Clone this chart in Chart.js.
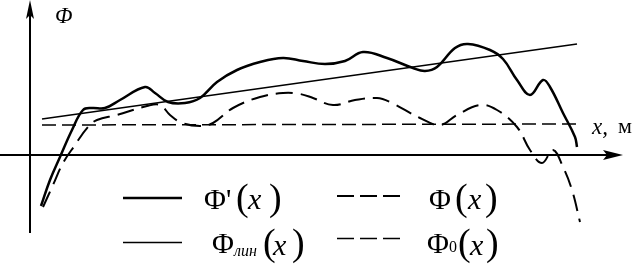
<!DOCTYPE html>
<html>
<head>
<meta charset="utf-8">
<script src="https://cdn.jsdelivr.net/npm/chart.js@4/dist/chart.umd.min.js"></script>
<style>
  html, body { margin: 0; padding: 0; background: #fff; }
  #wrap { position: relative; width: 633px; height: 265px; overflow: hidden; }
  canvas { position: absolute; left: 0; top: 0; }
  .t { position: absolute; font-family: "Times New Roman", "Liberation Serif", "DejaVu Serif", serif; color: #000; white-space: nowrap; line-height: 1; }
  .g { font-size: 30px; }
  .p { font-size: 38px; }
  .i { font-style: italic; }
  .s { font-size: 16px; }
</style>
</head>
<body>
<div id="wrap">
  <canvas id="chart" width="633" height="265"></canvas>
  <!-- axis names -->
  <div class="t i" style="left:55px; top:4px; font-size:23px;">Φ</div>
  <div class="t i" style="left:592px; top:115px; font-size:23px;">x,</div>
  <div class="t" style="left:618px; top:115px; font-size:22px;">м</div>
  <!-- legend: Φ'(x) -->
  <div class="t g" style="left:204px; top:184px;">Φ'</div>
  <div class="t p" style="left:236px; top:178px;">(</div>
  <div class="t g i" style="left:248px; top:184px;">x</div>
  <div class="t p" style="left:269px; top:178px;">)</div>
  <!-- legend: Φ(x) -->
  <div class="t g" style="left:429px; top:184px;">Φ</div>
  <div class="t p" style="left:455px; top:178px;">(</div>
  <div class="t g i" style="left:468px; top:184px;">x</div>
  <div class="t p" style="left:485px; top:178px;">)</div>
  <!-- legend: Φлин(x) -->
  <div class="t g" style="left:212px; top:228px;">Φ</div>
  <div class="t s i" style="left:234px; top:243px;">лин</div>
  <div class="t p" style="left:263px; top:223px;">(</div>
  <div class="t g i" style="left:273px; top:230px;">x</div>
  <div class="t p" style="left:292px; top:223px;">)</div>
  <!-- legend: Φ0(x) -->
  <div class="t g" style="left:427px; top:228px;">Φ</div>
  <div class="t s" style="left:449px; top:239px;">0</div>
  <div class="t p" style="left:458px; top:223px;">(</div>
  <div class="t g i" style="left:470px; top:230px;">x</div>
  <div class="t p" style="left:486px; top:223px;">)</div>
</div>
<script>
// values (x along the axis, Φ above the x axis)
const primeX = [41, 50, 60, 72, 83, 92, 105, 120, 145, 155, 168, 185, 200, 217, 237, 260, 283, 303, 325, 345, 363, 387, 413, 425, 437, 455, 468, 490, 503, 517, 530, 543, 550, 563, 575, 577];
const primeY = [-51, -25, -2, 25, 45, 47, 47, 55, 68, 62, 53, 52, 57, 73, 85, 93, 97, 94, 91, 94, 103, 97, 87, 84, 88, 107, 111, 105, 96, 75, 60, 75, 68, 42, 18, 8];

const phiX = [43, 53, 63, 75, 88, 97, 117, 147, 160, 170, 182, 200, 213, 233, 260, 283, 300, 313, 333, 355, 377, 390, 420, 440, 457, 480, 497, 517, 530, 542, 553, 563, 572, 580];
const phiY = [-52, -30, -8, 10, 28, 35, 40, 49, 50, 40, 32, 29, 32, 47, 58, 62, 61, 57, 50, 55, 57, 53, 37, 30, 40, 50, 45, 28, 5, -8, 5, -12, -35, -67];

const linX = [42, 577];
const linY = [36, 111];

const zeroX = [42, 580];
const zeroY = [30, 31];

const axisOriginX = 30;

function pts(xs, ys) {
    return xs.map((x, i) => ({ x: x, y: ys[i] }));
}

const axesPlugin = {
    id: 'axes',
    beforeDatasetsDraw(chart) {
        const ctx = chart.ctx;
        const xs = chart.scales.x, ys = chart.scales.y;
        const ox = xs.getPixelForValue(axisOriginX);
        const oy = ys.getPixelForValue(0);
        ctx.save();
        ctx.strokeStyle = '#000';
        ctx.fillStyle = '#000';
        ctx.lineWidth = 2;
        // x axis
        ctx.beginPath();
        ctx.moveTo(0, oy);
        ctx.lineTo(xs.getPixelForValue(612), oy);
        ctx.stroke();
        ctx.beginPath();
        ctx.moveTo(xs.getPixelForValue(623), oy);
        ctx.lineTo(xs.getPixelForValue(603), oy - 5);
        ctx.lineTo(xs.getPixelForValue(607), oy);
        ctx.lineTo(xs.getPixelForValue(603), oy + 5);
        ctx.closePath();
        ctx.fill();
        // y axis
        ctx.beginPath();
        ctx.moveTo(ox, ys.getPixelForValue(-78));
        ctx.lineTo(ox, ys.getPixelForValue(143));
        ctx.stroke();
        ctx.beginPath();
        ctx.moveTo(ox, ys.getPixelForValue(155));
        ctx.lineTo(ox - 4, ys.getPixelForValue(136));
        ctx.lineTo(ox, ys.getPixelForValue(140));
        ctx.lineTo(ox + 4, ys.getPixelForValue(136));
        ctx.closePath();
        ctx.fill();
        ctx.restore();
    }
};

// sample strokes for the legend, taken from the dataset styles
const legendPlugin = {
    id: 'legendLines',
    afterDraw(chart) {
        const ctx = chart.ctx;
        const spots = [[123, 182, 198], [337, 400, 196], [123, 182, 242.5], [337, 400, 238.5]];
        chart.data.datasets.forEach((ds, i) => {
            const s = spots[i];
            ctx.save();
            ctx.strokeStyle = ds.borderColor;
            ctx.lineWidth = ds.borderWidth;
            ctx.setLineDash(ds.legendDash || ds.borderDash || []);
            ctx.beginPath();
            ctx.moveTo(s[0], s[2]);
            ctx.lineTo(s[1], s[2]);
            ctx.stroke();
            ctx.restore();
        });
    }
};

const ctx = document.getElementById('chart').getContext('2d');
const chart = new Chart(ctx, {
    type: 'scatter',
    data: {
        datasets: [
            { label: "Φ'(x)", data: pts(primeX, primeY), showLine: true, borderColor: '#000', borderWidth: 2.5, tension: 0.4, pointRadius: 0 },
            { label: 'Φ(x)', data: pts(phiX, phiY), showLine: true, borderColor: '#000', borderWidth: 2, borderDash: [17, 8], legendDash: [17, 6], tension: 0.4, pointRadius: 0 },
            { label: 'Φлин(x)', data: pts(linX, linY), showLine: true, borderColor: '#000', borderWidth: 1.5, tension: 0, pointRadius: 0 },
            { label: 'Φ0(x)', data: pts(zeroX, zeroY), showLine: true, borderColor: '#000', borderWidth: 1.5, borderDash: [14, 6], legendDash: [17, 6], tension: 0, pointRadius: 0 }
        ]
    },
    options: {
        responsive: false,
        animation: false,
        layout: { padding: 0 },
        scales: {
            x: { type: 'linear', min: 0, max: 633, display: false },
            y: { type: 'linear', min: -110, max: 155, display: false }
        },
        plugins: {
            legend: { display: false },
            tooltip: { enabled: false }
        }
    },
    plugins: [axesPlugin, legendPlugin]
});
</script>
</body>
</html>
